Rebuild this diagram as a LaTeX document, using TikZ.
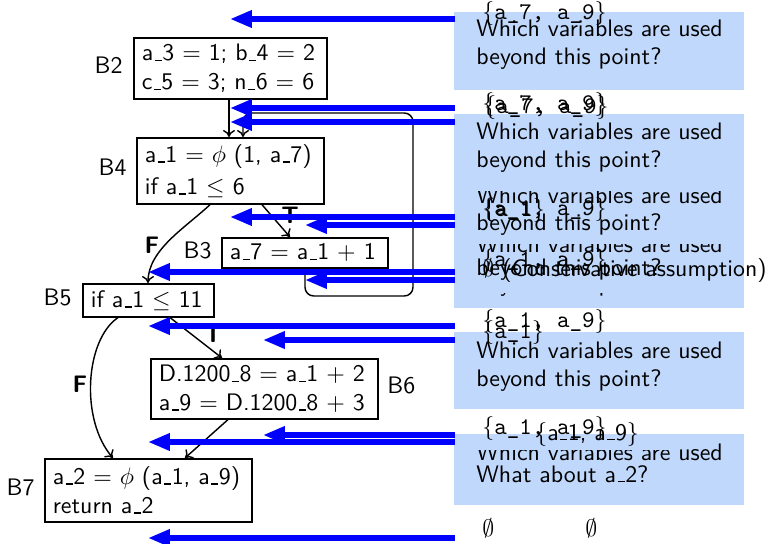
\documentclass[tikz,border=0pt]{standalone}
\usetikzlibrary{arrows.meta,calc}
\definecolor{boxblue}{RGB}{192,216,252}
\definecolor{arrowblue}{RGB}{0,0,255}
\newcommand\vset[1]{$\{$\texttt{#1}$\}$}
\newcommand\us{\leavevmode\kern.06em\rule[-0.2pt]{.3em}{0.7pt}\kern.02em}
\begin{document}
\begin{tikzpicture}[x=0.4587pt,y=-0.4587pt,
  font=\sffamily\fontsize{10.95}{13.3}\selectfont,
  cfg/.style={draw,line width=0.75pt,anchor=north west,align=left,inner xsep=3.67pt,inner ysep=0pt},
  flow/.style={line width=0.65pt,-{To[length=3.2pt,width=5.5pt]}},
  branch/.style={font=\sffamily\bfseries\fontsize{10.95}{13.3}\selectfont,inner sep=0pt},
  blabel/.style={anchor=base east,inner sep=0pt},
  ntext/.style={anchor=base west,inner sep=0pt},
  liveset/.style={anchor=base west,inner sep=0pt},
  live/.style={draw=arrowblue,line width=2.4pt,-{Triangle[length=10pt,width=7.5pt]}},
]
\useasboundingbox (0,0) rectangle (767,543);

% annotation boxes
\fill[boxblue] (454,12) rectangle (744,90);
\fill[boxblue] (454,114) rectangle (744,308);
\fill[boxblue] (454,332) rectangle (744,409);
\fill[boxblue] (454,434) rectangle (744,505);

\node[ntext] at (476,37) {Which variables are used};
\node[ntext] at (476,65) {beyond this point?};

\node[ntext] at (476,139) {Which variables are used};
\node[ntext] at (476,167) {beyond this point?};
\begin{scope}
  \clip (454,191) rectangle (744,215);
  \node[ntext] at (476,203) {Which variables are used};
\end{scope}
\node[ntext] at (476,230) {beyond this point?};
\begin{scope}
  \clip (454,244) rectangle (744,262);
  \node[ntext] at (476,252) {Which variables are used};
\end{scope}
\node[ntext] at (476,275) {beyond this point?};
\begin{scope}
  \clip (454,293) rectangle (744,308);
  \node[ntext] at (476,291) {beyond this point?};
\end{scope}

\node[ntext] at (476,358) {Which variables are used};
\node[ntext] at (476,386) {beyond this point?};

\begin{scope}
  \clip (454,450) rectangle (675,470);
  \node[ntext] at (476,460) {Which variables are used};
\end{scope}
\begin{scope}
  \clip (675,434) rectangle (744,470);
  \node[ntext] at (476,460) {Which variables are used};
\end{scope}
\node[ntext] at (476,482) {What about a\us 2?};

% live sets
\node[liveset] at (482,20) {\vset{a\_7, a\_9}};
\node[liveset] at (482,110) {\vset{a\_7, a\_9}};
\node[liveset] at (484,114) {\vset{a\_7, a\_9}};
\node[liveset] at (482,215) {\vset{a\_1, a\_9}};
\node[liveset] at (483,216) {\vset{a\_1}};
\node[liveset] at (482,266) {\vset{a\_1, a\_9}};
\node[liveset] at (482,276) {$\emptyset$ (Conservative assumption)};
\node[liveset] at (482,327) {\vset{a\_1, a\_9}};
\node[liveset] at (482,338) {\vset{a\_1}};
\node[liveset] at (482,434) {\vset{a\_1, a\_9}};
\node[liveset] at (535,440) {$\{$a\us 1, a\us 9$\}$};
\node[liveset] at (482,536) {$\emptyset$};
\node[liveset] at (585,536) {$\emptyset$};

% CFG blocks
\node[cfg,minimum height=28pt,text width=81.2pt] (b2) at (133,37)
  {\mbox{a\us 3 $=$ 1; b\us 4 $=$ 2}\\\mbox{c\us 5 $=$ 3; n\us 6 $=$ 6}};
\node[cfg,minimum height=30.3pt,text width=78.4pt] (b4) at (136,137)
  {\mbox{a\us 1 $=$ $\phi$ (1, a\us 7)}\\[1.4pt]\mbox{if a\us 1 $\leq$ 6}};
\node[cfg,minimum height=13.8pt,text width=68.8pt] (b3) at (221,237)
  {\mbox{a\us 7 $=$ a\us 1 $+$ 1}};
\node[cfg,minimum height=15.1pt,text width=52.8pt] (b5) at (82,283)
  {\mbox{if a\us 1 $\leq$ 11}};
\node[cfg,minimum height=27.5pt,text width=96.8pt] (b6) at (150,358)
  {\mbox{D.1200\us 8 $=$ a\us 1 $+$ 2}\\\mbox{a\us 9 $=$ D.1200\us 8 $+$ 3}};
\node[cfg,minimum height=28.9pt,text width=87.6pt] (b7) at (44,458)
  {\mbox{a\us 2 $=$ $\phi$ (a\us 1, a\us 9)}\\\mbox{return a\us 2}};

\node[blabel] at (123,74) {B2};
\node[blabel] at (127,175) {B4};
\node[blabel] at (212,258) {B3};
\node[blabel] at (72,305) {B5};
\node[anchor=base west,inner sep=0pt] at (387,393) {B6};
\node[blabel] at (35,495) {B7};

% CFG edges
\coordinate (loopc) at (413,296);
\draw[flow] ($(b2.south west)+(96,0)$) -- ($(b4.north west)+(93,0)$);
\draw[flow,rounded corners=4pt] ($(b3.south west)+(84,0)$) |- (loopc)
  |- ($(b4.north west)+(107,-24)$) -- ($(b4.north west)+(107,0)$);
\draw[flow] ($(b4.south west)+(126,0)$) -- ($(b3.north west)+(69,0)$);
\node[branch] at (290,215) {T};
\draw[flow] ($(b4.south west)+(74,0)$) .. controls (185,228) and (148,250) .. ($(b5.north west)+(66,0)$);
\node[branch] at (152,245) {F};
\draw[flow] ($(b5.south west)+(88,0)$) -- ($(b6.north west)+(72,0)$);
\node[branch] at (213,334) {T};
\draw[flow] ($(b5.south west)+(36,0)$) .. controls (85,340) and (80,420) .. ($(b7.north west)+(69,0)$);
\node[branch] at (80,384) {F};
\draw[flow] ($(b6.south west)+(78,0)$) -- ($(b7.north west)+(141,0)$);

% program-point arrows
\foreach \yy/\tt [count=\i] in {19/230,108/230,122/230,217/230,225/305,272/148,280/305,326/148,340/263,435/263,442/148,538/148}{
  \coordinate (ls\i) at (455,\yy);
  \coordinate (lt\i) at (\tt,\yy);
  \draw[live] (ls\i) -- (lt\i);
}
\end{tikzpicture}
\end{document}
